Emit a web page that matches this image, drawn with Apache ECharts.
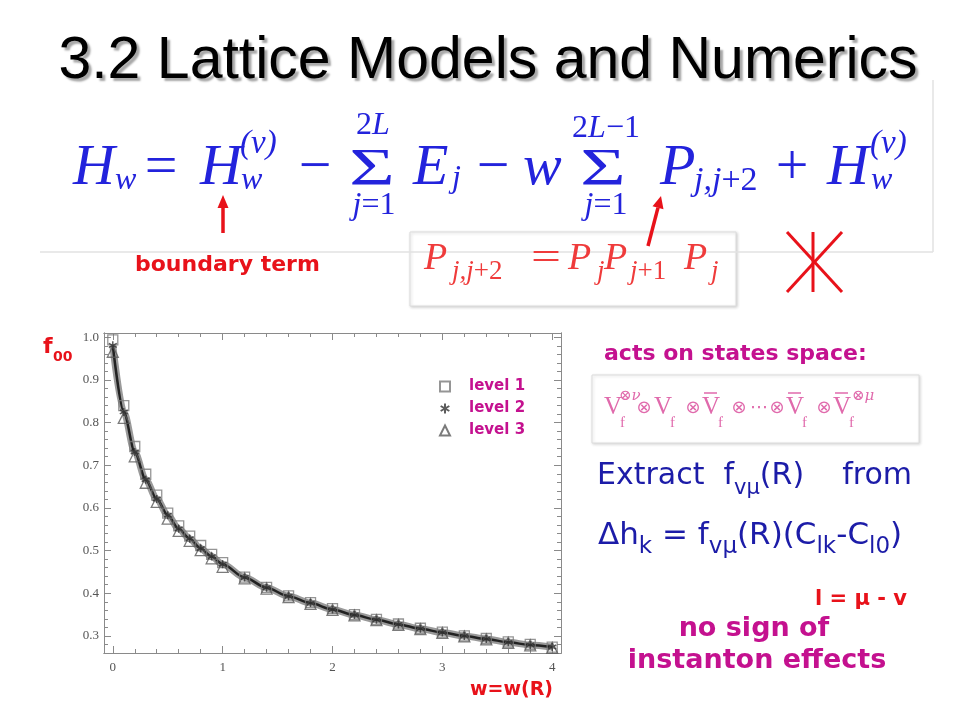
<!DOCTYPE html>
<html><head><meta charset="utf-8">
<script src="https://cdn.jsdelivr.net/npm/echarts@6/dist/echarts.min.js"></script>
<style>html,body{margin:0;padding:0;background:#fff}#c{width:960px;height:720px}</style>
</head><body><div id="c"></div>
<script>
// ---- data ----
const wValues = [0, 0.1, 0.2, 0.3, 0.4, 0.5, 0.6, 0.7, 0.8, 0.9, 1.0, 1.2, 1.4, 1.6, 1.8, 2.0, 2.2, 2.4, 2.6, 2.8, 3.0, 3.2, 3.4, 3.6, 3.8, 4.0];
const level1 = [0.994, 0.840, 0.744, 0.679, 0.630, 0.588, 0.558, 0.534, 0.512, 0.491, 0.472, 0.438, 0.414, 0.394, 0.378, 0.364, 0.350, 0.339, 0.328, 0.318, 0.309, 0.300, 0.294, 0.286, 0.280, 0.274];
const level2 = [0.981, 0.825, 0.731, 0.666, 0.621, 0.583, 0.551, 0.528, 0.505, 0.486, 0.468, 0.437, 0.413, 0.393, 0.377, 0.362, 0.349, 0.338, 0.327, 0.317, 0.308, 0.300, 0.293, 0.285, 0.279, 0.274];
const level3 = [0.966, 0.811, 0.721, 0.659, 0.614, 0.575, 0.546, 0.523, 0.501, 0.482, 0.462, 0.435, 0.411, 0.391, 0.375, 0.361, 0.348, 0.337, 0.326, 0.316, 0.307, 0.299, 0.292, 0.284, 0.278, 0.272];
const seriesNames = ['level 1', 'level 2', 'level 3'];
const xTickLabels = [0, 1, 2, 3, 4];
const xMinorTicks = [0.2, 0.4, 0.6, 0.8, 1.2, 1.4, 1.6, 1.8, 2.2, 2.4, 2.6, 2.8, 3.2, 3.4, 3.6, 3.8];
const yTickLabels = [0.3, 0.4, 0.5, 0.6, 0.7, 0.8, 0.9, 1.0];
const yMinorTicks = [0.26, 0.28, 0.32, 0.34, 0.36, 0.38, 0.42, 0.44, 0.46, 0.48, 0.52, 0.54, 0.56, 0.58, 0.62, 0.64, 0.66, 0.68, 0.72, 0.74, 0.76, 0.78, 0.82, 0.84, 0.86, 0.88, 0.92, 0.94, 0.96, 0.98];
const xRange = [-0.08, 4.08];
const yRange = [0.26, 1.01];

// ---- styling ----
const FRAME = '#8a8a8a';
const TICKFONT = { color: '#555', fontFamily: 'Liberation Serif', fontSize: 13 };
const MAGENTA = '#c4118f';
const RED = '#e8121a';
const BLUE = '#2323dc';
const DBLUE = '#1c1ca8';
const PRED = '#ef3b3b';
const PINK = '#e06aac';

function pts(arr) { return wValues.map((w, i) => [w, arr[i]]); }

function xAx(pos, ticks, len, labels) {
  return {
    type: 'value', position: pos, min: xRange[0], max: xRange[1],
    axisLine: { show: true, onZero: false, lineStyle: { color: FRAME, width: 1 } },
    axisTick: { show: true, inside: true, length: len, customValues: ticks, lineStyle: { color: FRAME } },
    axisLabel: labels ? Object.assign({ show: true, margin: 8, customValues: labels, formatter: v => String(v) }, TICKFONT) : { show: false },
    splitLine: { show: false }
  };
}
function yAx(pos, ticks, len, labels) {
  return {
    type: 'value', position: pos, min: yRange[0], max: yRange[1],
    axisLine: { show: true, onZero: false, lineStyle: { color: FRAME, width: 1 } },
    axisTick: { show: true, inside: true, length: len, customValues: ticks, lineStyle: { color: FRAME } },
    axisLabel: labels ? Object.assign({ show: true, margin: 5, customValues: labels, formatter: v => v.toFixed(1) }, TICKFONT) : { show: false },
    splitLine: { show: false }
  };
}

function T(x, y, text, font, fill, extra, elExtra) {
  return Object.assign({ type: 'text', x: x, y: y, z: 50, silent: true,
    style: Object.assign({ text: text, font: font, fill: fill, align: 'left', verticalAlign: 'middle' }, extra || {}) }, elExtra || {});
}
function L(x1, y1, x2, y2, stroke, w) {
  return { type: 'line', z: 48, silent: true, shape: { x1, y1, x2, y2 }, style: { stroke: stroke, lineWidth: w } };
}
function Poly(points, fill) {
  return { type: 'polygon', z: 48, silent: true, shape: { points: points }, style: { fill: fill } };
}

const IT58 = 'italic 58px "Liberation Serif"';
const IT32 = 'italic 32px "Liberation Serif"';
const R58 = '58px "Liberation Serif"';
const richSet = (fill, size) => ({
  i: { font: 'italic ' + size + 'px "Liberation Serif"', fill: fill },
  r: { font: size + 'px "Liberation Serif"', fill: fill }
});
const IT38 = 'italic 38px "Liberation Serif"';
const IT27 = 'italic 27px "Liberation Serif"';
const subRich = (mainSize, subSize) => ({
  m: { font: mainSize + 'px "DejaVu Sans"', fill: DBLUE, lineHeight: 45 },
  s: { font: subSize + 'px "DejaVu Sans"', fill: DBLUE, lineHeight: subSize, verticalAlign: 'bottom' }
});

const graphics = [
  // title
  T(488, 62, '3.2 Lattice Models and Numerics', '59px "Liberation Sans"', '#000',
    { align: 'center', textShadowColor: 'rgba(0,0,0,0.35)', textShadowBlur: 2, textShadowOffsetX: 3, textShadowOffsetY: 3 }),
  // formula frame lines
  L(40, 252, 933, 252, '#e2e2e2', 1.5),
  L(933, 80, 933, 252, '#e2e2e2', 1.5),
  // main formula
  T(73, 169, 'H', IT58, BLUE),
  T(115, 181, 'w', IT32, BLUE),
  T(161, 169, '=', R58, BLUE, { align: 'center' }),
  T(200, 169, 'H', IT58, BLUE),
  T(240, 144, '(ν)', 'italic 33px "Liberation Serif"', BLUE),
  T(241, 181, 'w', IT32, BLUE),
  T(315, 169, '\u2212', R58, BLUE, { align: 'center' }),
  T(372, 171, 'Σ', '52px "Liberation Serif"', BLUE, { align: 'center' }, { scaleX: 1.5 }),
  T(373, 126, '{r|2}{i|L}', '32px "Liberation Serif"', BLUE, { align: 'center', rich: richSet(BLUE, 32) }),
  T(374, 206, '{i|j}{r|=1}', '32px "Liberation Serif"', BLUE, { align: 'center', rich: richSet(BLUE, 32) }),
  T(413, 169, 'E', IT58, BLUE),
  T(452, 179, 'j', IT32, BLUE),
  T(493, 169, '\u2212', R58, BLUE, { align: 'center' }),
  T(523, 169, 'w', IT58, BLUE),
  T(603, 171, 'Σ', '52px "Liberation Serif"', BLUE, { align: 'center' }, { scaleX: 1.5 }),
  T(606, 129, '{r|2}{i|L}{r|\u22121}', '32px "Liberation Serif"', BLUE, { align: 'center', rich: richSet(BLUE, 32) }),
  T(606, 206, '{i|j}{r|=1}', '32px "Liberation Serif"', BLUE, { align: 'center', rich: richSet(BLUE, 32) }),
  T(660, 169, 'P', IT58, BLUE),
  T(694, 181, '{i|j,j}{r|+2}', '34px "Liberation Serif"', BLUE, { rich: richSet(BLUE, 34) }),
  T(792, 169, '+', R58, BLUE, { align: 'center' }),
  T(827, 169, 'H', IT58, BLUE),
  T(870, 144, '(ν)', 'italic 33px "Liberation Serif"', BLUE),
  T(871, 181, 'w', IT32, BLUE),
  // arrows
  L(223, 233, 223, 206, RED, 3.5),
  Poly([[223, 195], [217.5, 208], [228.5, 208]], RED),
  L(648, 246, 658, 207.6, RED, 3.5),
  Poly([[661, 196], [663.5, 209.2], [652.5, 206.2]], RED),
  T(135, 265, 'boundary term', 'bold 22px "DejaVu Sans"', RED),
  // P box
  { type: 'rect', z: 45, silent: true, shape: { x: 410, y: 232, width: 326, height: 74 },
    style: { fill: '#fff', stroke: '#dcdcdc', lineWidth: 1, shadowBlur: 3, shadowColor: 'rgba(0,0,0,0.18)', shadowOffsetX: 1, shadowOffsetY: 1 } },
  T(424, 259, 'P', IT38, PRED),
  T(452, 272, '{i|j,j}{r|+2}', '27px "Liberation Serif"', PRED, { rich: richSet(PRED, 27) }),
  T(546, 259, '=', '38px "Liberation Serif"', PRED, { align: 'center' }, { scaleX: 1.4 }),
  T(568, 259, 'P', IT38, PRED),
  T(597, 272, 'j', IT27, PRED),
  T(604, 259, 'P', IT38, PRED),
  T(630, 272, '{i|j}{r|+1}', '27px "Liberation Serif"', PRED, { rich: richSet(PRED, 27) }),
  T(684, 259, 'P', IT38, PRED),
  T(711, 272, 'j', IT27, PRED),
  // red X
  L(787, 232, 842, 292, RED, 3),
  L(842, 232, 787, 292, RED, 3),
  L(813, 232, 813, 292, RED, 3),
  // chart labels
  T(43, 347, 'f', 'bold 22px "DejaVu Sans"', RED),
  T(53, 357, '00', 'bold 14px "DejaVu Sans"', RED),
  T(470, 690, 'w=w(R)', 'bold 19px "DejaVu Sans"', RED),
  // right column
  T(604, 354, 'acts on states space:', 'bold 22px "DejaVu Sans"', MAGENTA),
  { type: 'rect', z: 45, silent: true, shape: { x: 592, y: 375, width: 327, height: 68 },
    style: { fill: '#fff', stroke: '#dcdcdc', lineWidth: 1, shadowBlur: 3, shadowColor: 'rgba(0,0,0,0.15)', shadowOffsetX: 1, shadowOffsetY: 1 } },
  T(604, 407, 'V', '25px "Liberation Serif"', PINK),
  T(619, 396, '⊗ν', 'italic 15px "DejaVu Serif"', PINK),
  T(620, 423, 'f', '15px "Liberation Serif"', PINK),
  T(644, 408, '⊗', '18px "DejaVu Sans"', PINK, { align: 'center' }),
  T(654, 407, 'V', '25px "Liberation Serif"', PINK),
  T(670, 423, 'f', '15px "Liberation Serif"', PINK),
  T(693, 408, '⊗', '18px "DejaVu Sans"', PINK, { align: 'center' }),
  T(702, 407, 'V', '25px "Liberation Serif"', PINK),
  L(704, 393, 717, 393, PINK, 1.5),
  T(718, 423, 'f', '15px "Liberation Serif"', PINK),
  T(739, 408, '⊗', '18px "DejaVu Sans"', PINK, { align: 'center' }),
  T(759, 408, '⋯', '18px "DejaVu Sans"', PINK, { align: 'center' }),
  T(777, 408, '⊗', '18px "DejaVu Sans"', PINK, { align: 'center' }),
  T(786, 407, 'V', '25px "Liberation Serif"', PINK),
  L(788, 393, 801, 393, PINK, 1.5),
  T(802, 423, 'f', '15px "Liberation Serif"', PINK),
  T(824, 408, '⊗', '18px "DejaVu Sans"', PINK, { align: 'center' }),
  T(833, 407, 'V', '25px "Liberation Serif"', PINK),
  L(835, 393, 848, 393, PINK, 1.5),
  T(849, 423, 'f', '15px "Liberation Serif"', PINK),
  T(852, 396, '⊗μ', 'italic 15px "DejaVu Serif"', PINK),
  T(597, 476.6, '{m|Extract  f}{s|vμ}{m|(R)    from}', '30px "DejaVu Sans"', DBLUE, { rich: subRich(30, 21) }),
  T(598, 536.3, '{m|Δh}{s|k}{m| = f}{s|vμ}{m|(R)(C}{s|lk}{m|-C}{s|l0}{m|)}', '31px "DejaVu Sans"', DBLUE, { rich: subRich(31, 23) }),
  T(815, 600, 'l = μ - v', 'bold 21px "DejaVu Sans"', RED),
  T(754, 629, 'no sign of', 'bold 27px "DejaVu Sans"', MAGENTA, { align: 'center' }),
  T(757, 661, 'instanton effects', 'bold 27px "DejaVu Sans"', MAGENTA, { align: 'center' })
];

const chart = echarts.init(document.getElementById('c'), null, { renderer: 'canvas' });
chart.setOption({
  backgroundColor: '#fff',
  animation: false,
  grid: { left: 104, right: 399, top: 333, bottom: 67, containLabel: false },
  xAxis: [
    xAx('bottom', xTickLabels, 7, xTickLabels),
    xAx('bottom', xMinorTicks, 4, null),
    xAx('top', xTickLabels, 7, null),
    xAx('top', xMinorTicks, 4, null)
  ],
  yAxis: [
    yAx('left', yTickLabels, 7, yTickLabels),
    yAx('left', yMinorTicks, 4, null),
    yAx('right', yTickLabels, 7, null),
    yAx('right', yMinorTicks, 4, null)
  ],
  legend: {
    data: seriesNames, orient: 'vertical', left: 434, top: 374,
    itemWidth: 10, itemHeight: 10, itemGap: 7,
    textStyle: { fontFamily: 'DejaVu Sans', fontWeight: 'bold', fontSize: 15, color: MAGENTA, padding: [0, 0, 0, 14] }
  },
  series: [
    { name: 'band', type: 'line', data: pts(level2), smooth: 0.3, smoothMonotone: 'x', showSymbol: false, silent: true,
      lineStyle: { color: '#9a9a9a', width: 7 }, z: 1 },
    { name: 'fit', type: 'line', data: pts(level2), smooth: 0.3, smoothMonotone: 'x', showSymbol: false, silent: true,
      lineStyle: { color: '#222', width: 2.5 }, z: 2 },
    { name: seriesNames[0], type: 'scatter', data: pts(level1), symbol: 'rect', symbolSize: 10, z: 3,
      itemStyle: { color: 'rgba(0,0,0,0)', borderColor: '#7a7a7a', borderWidth: 1.3 } },
    { name: seriesNames[1], type: 'scatter', data: pts(level2), symbol: 'path://M0,-5L0,5M-4.33,-2.5L4.33,2.5M-4.33,2.5L4.33,-2.5', symbolSize: 8, z: 4,
      itemStyle: { color: 'rgba(0,0,0,0)', borderColor: '#333', borderWidth: 1.5 } },
    { name: seriesNames[2], type: 'scatter', data: pts(level3), symbol: 'triangle', symbolSize: 11, z: 3,
      itemStyle: { color: 'rgba(0,0,0,0)', borderColor: '#5a5a5a', borderWidth: 1.3 } }
  ],
  graphic: graphics
});
</script>
</body></html>
